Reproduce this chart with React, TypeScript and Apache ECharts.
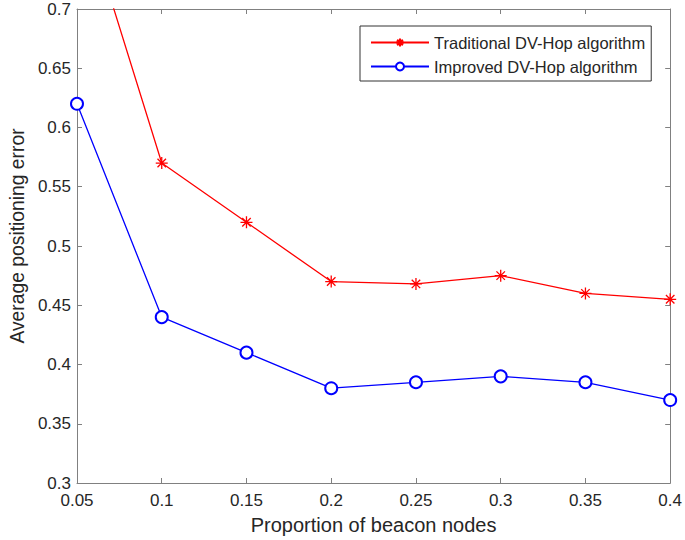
import React, { useEffect, useRef } from "react";
import * as echarts from "echarts";

const proportions = [0.05, 0.1, 0.15, 0.2, 0.25, 0.3, 0.35, 0.4];
const traditional = [0.8, 0.57, 0.52, 0.47, 0.468, 0.475, 0.46, 0.455];
const improved = [0.62, 0.44, 0.41, 0.38, 0.385, 0.39, 0.385, 0.37];
const seriesNames = ["Traditional DV-Hop algorithm", "Improved DV-Hop algorithm"];
const xTitle = "Proportion of beacon nodes";
const yTitle = "Average positioning error";

const FONT = "Liberation Sans, Arial, Helvetica, sans-serif";
const TEXT = "#262626";
const AXIS = "#808080";

const asterisk =
  "path://M0,-1L0,1M-1,0L1,0M-0.7071,-0.7071L0.7071,0.7071M-0.7071,0.7071L0.7071,-0.7071";

export default function App() {
  const ref = useRef<HTMLDivElement>(null);
  useEffect(() => {
    if (!ref.current) return;
    const chart = echarts.init(ref.current, null, { renderer: "svg" });
    const axisCommon = {
      axisLine: { show: true, onZero: false, lineStyle: { color: AXIS, width: 1 } },
      axisTick: { show: true, inside: true, length: 5, lineStyle: { color: AXIS } },
      splitLine: { show: false },
    };
    const xBase = { type: "value", min: 0.05, max: 0.4, interval: 0.05 };
    const yBase = { type: "value", min: 0.3, max: 0.7, interval: 0.05 };
    chart.setOption({
      animation: false,
      backgroundColor: "#ffffff",
      textStyle: { fontFamily: FONT },
      grid: { left: 69, top: 9, right: 14, bottom: 57, containLabel: false },
      legend: {
        orient: "vertical",
        left: 360,
        top: 26,
        padding: [8, 6, 6, 10],
        itemWidth: 58,
        itemHeight: 10,
        itemGap: 7,
        backgroundColor: "#ffffff",
        borderColor: "#333333",
        borderWidth: 1,
        textStyle: { fontSize: 16.5, lineHeight: 14, color: TEXT, fontFamily: FONT },
        data: seriesNames,
      },
      xAxis: [
        {
          ...xBase,
          ...axisCommon,
          position: "bottom",
          name: xTitle,
          nameLocation: "middle",
          nameGap: 32,
          nameTextStyle: { fontSize: 20, color: TEXT, fontFamily: FONT },
          axisLabel: { fontSize: 17, color: TEXT, margin: 9, fontFamily: FONT },
        },
        {
          ...xBase,
          ...axisCommon,
          position: "top",
          axisLabel: { show: false },
        },
      ],
      yAxis: [
        {
          ...yBase,
          ...axisCommon,
          position: "left",
          name: yTitle,
          nameLocation: "middle",
          nameGap: 50,
          nameTextStyle: {
            fontSize: 19.3,
            color: TEXT,
            fontFamily: FONT,
            padding: [0, 0, 0, 20],
          },
          axisLabel: { fontSize: 17, color: TEXT, margin: 6, fontFamily: FONT },
        },
        {
          ...yBase,
          ...axisCommon,
          position: "right",
          axisLabel: { show: false },
        },
      ],
      series: [
        {
          name: seriesNames[0],
          type: "line",
          clip: true,
          data: proportions.map((x, i) => [x, traditional[i]]),
          symbol: asterisk,
          symbolSize: 12,
          lineStyle: { color: "#ff0000", width: 1.3 },
          itemStyle: { color: "#ff0000", borderColor: "#ff0000", borderWidth: 1.3 },
        },
        {
          name: seriesNames[1],
          type: "line",
          clip: true,
          data: proportions.map((x, i) => [x, improved[i]]),
          symbol: "emptyCircle",
          symbolSize: 12,
          lineStyle: { color: "#0000ff", width: 1.3 },
          itemStyle: { color: "#0000ff", borderColor: "#0000ff", borderWidth: 1.1 },
        },
      ],
    });
    return () => chart.dispose();
  }, []);
  return (
    <div
      ref={ref}
      style={{ position: "fixed", left: 0, top: 0, width: 685, height: 540, background: "#fff" }}
    />
  );
}
